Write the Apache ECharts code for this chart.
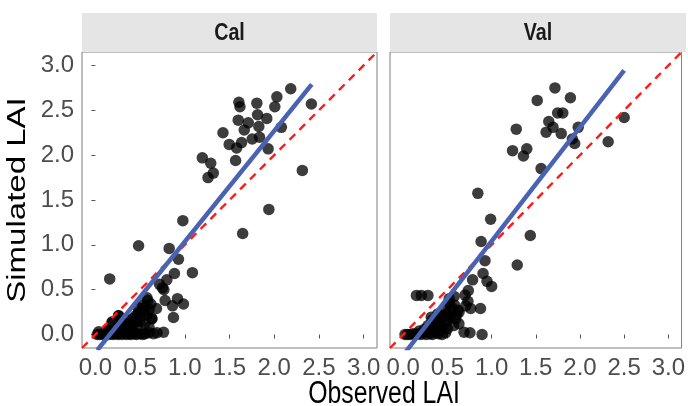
<!DOCTYPE html>
<html><head><meta charset="utf-8">
<script src="https://cdn.jsdelivr.net/npm/echarts@6/dist/echarts.min.js"></script>
<style>html,body{margin:0;padding:0;background:#fff}#c{width:688px;height:406px}</style>
</head><body><div id="c"></div>
<script>
const panels = ['Cal', 'Val'];
const tickValues = [0, 0.5, 1, 1.5, 2, 2.5, 3];
const xTitle = 'Observed LAI';
const yTitle = 'Simulated LAI';

const calX = [
  2.185,2.03,1.605,1.617,1.806,2.007,2.416,1.814,1.917,1.598,1.71,1.828,1.665,2.08,1.427,1.754,1.836,1.635,1.497,1.58,1.932,1.196,1.29,1.568,1.319,1.26,2.315,1.94,
  0.978,1.647,0.483,0.825,0.929,0.16,0.884,1.085,0.799,0.717,0.766,0.78,0.918,0.576,
  0.75,0.587,0.985,0.862,0.683,0.873,0.632,0.762,0.69,0.557,0.44,0.186,0.26,0.037,
  0.02,0.05,0.08,0.10,0.12,0.15,0.18,0.20,0.22,0.25,0.27,0.30,0.32,0.35,0.38,0.40,0.43,0.46,0.50,0.53,0.60,0.65,
  0.15,0.20,0.25,0.28,0.32,0.35,0.38,0.40,0.42,0.45,0.47,0.50,0.33,0.37,0.42,0.45,0.48,0.50,0.52,0.55,0.56,0.58,0.60,0.62,0.53,0.48,0.30,0.27,0.63,0.26,0.19,0.12,0.60,0.55
];
const calY = [
  2.74,2.65,2.59,2.54,2.58,2.54,2.57,2.45,2.41,2.39,2.36,2.32,2.28,2.31,2.25,2.18,2.20,2.14,2.12,2.08,2.07,1.97,1.91,1.94,1.80,1.75,1.83,1.395,
  1.27,1.126,0.99,0.96,0.84,0.62,0.68,0.69,0.61,0.56,0.50,0.38,0.40,0.41,
  0.52,0.38,0.34,0.32,0.29,0.19,0.175,0.026,0.02,0.01,0.01,0.14,0.21,0.03,
  0.00,0.00,0.00,0.01,0.00,0.00,0.01,0.00,0.02,0.00,0.01,0.00,0.02,0.00,0.01,0.00,0.02,0.00,0.01,0.00,0.02,0.01,
  0.05,0.06,0.05,0.08,0.06,0.10,0.07,0.12,0.09,0.14,0.10,0.15,0.13,0.16,0.18,0.21,0.24,0.20,0.27,0.25,0.31,0.22,0.28,0.34,0.33,0.30,0.12,0.15,0.18,0.21,0.14,0.04,0.08,0.12
];

const valX = [
  1.717,1.516,1.892,1.747,1.806,1.647,1.695,1.617,1.788,1.98,1.279,2.50,1.914,1.94,2.319,1.237,1.398,1.36,1.56,
  0.844,0.989,1.438,0.881,0.925,1.29,0.903,0.785,0.948,1.0,0.736,0.699,0.149,0.205,0.279,0.576,0.52,0.732,0.707,0.874,0.763,0.632,0.595,0.50,0.688,0.755,0.892,0.50,0.50,0.317,0.39,
  0.02,0.05,0.08,0.11,0.14,0.17,0.20,0.23,0.26,0.30,0.33,0.37,0.40,0.44,0.48,0.18,0.24,0.30,0.34,0.38,0.42,0.45,0.36,0.40,0.44,0.47,0.50,0.53,0.55,0.58,0.60,0.62,0.52,0.47,0.57,0.63,0.33,0.28
];
const valY = [
  2.75,2.61,2.64,2.47,2.47,2.375,2.31,2.256,2.24,2.31,2.29,2.42,2.18,2.13,2.15,2.05,2.07,1.99,1.85,
  1.574,1.286,1.104,1.037,0.824,0.775,0.68,0.61,0.593,0.537,0.49,0.44,0.436,0.436,0.436,0.425,0.40,0.37,0.32,0.29,0.29,0.25,0.175,0.157,0.026,0.02,0.0,0.064,0.22,0.194,0.23,
  0.00,0.00,0.00,0.01,0.00,0.01,0.00,0.02,0.00,0.01,0.00,0.02,0.01,0.00,0.02,0.04,0.06,0.05,0.08,0.06,0.10,0.07,0.13,0.16,0.20,0.13,0.24,0.19,0.30,0.33,0.22,0.27,0.35,0.28,0.10,0.12,0.16,0.10
];

// fitted regression lines (end points) and 1:1 line
const calFitX = [0.02, 2.42];
const calFitY = [-0.175, 2.79];
const valFitX = [0.03, 2.50];
const valFitY = [-0.19, 2.945];
const oneToOne = [-0.15, 3.15];

const zip = (a, b) => a.map((v, i) => [v, b[i]]);

const FONT = '"Liberation Sans", Arial, sans-serif';
const gridL = [82, 390];
const gridW = [295, 296];

function xAxis(i) {
  return {
    gridIndex: i, type: 'value', min: -0.15, max: 3.15,
    axisLine: { show: false },
    splitLine: { show: false },
    axisTick: { show: true, length: 4, lineStyle: { color: '#555', width: 1 }, customValues: tickValues },
    axisLabel: { show: true, customValues: tickValues, formatter: v => v.toFixed(1),
      color: '#4d4d4d', fontSize: 24, fontFamily: FONT, margin: 8 }
  };
}
function yAxis(i) {
  return {
    gridIndex: i, type: 'value', min: -0.15, max: 3.15,
    axisLine: { show: false },
    splitLine: { show: false },
    axisTick: { show: i === 0, length: 4, lineStyle: { color: '#555', width: 1 }, customValues: tickValues },
    axisLabel: { show: i === 0, customValues: tickValues, formatter: v => v.toFixed(1),
      color: '#4d4d4d', fontSize: 24, fontFamily: FONT, margin: 8 }
  };
}

const series = [];
[[calX, calY, calFitX, calFitY], [valX, valY, valFitX, valFitY]].forEach((d, i) => {
  series.push({
    type: 'scatter', xAxisIndex: i, yAxisIndex: i, data: zip(d[0], d[1]),
    symbolSize: 11.5, itemStyle: { color: '#000', opacity: 0.76 }, silent: true, z: 2
  });
  series.push({
    type: 'line', xAxisIndex: i, yAxisIndex: i, data: zip(oneToOne, oneToOne),
    symbol: 'none', clip: true, lineStyle: { color: '#ff1a1a', width: 2.4, type: [8, 6] }, z: 3, silent: true
  });
  series.push({
    type: 'line', xAxisIndex: i, yAxisIndex: i, data: zip(d[2], d[3]),
    symbol: 'none', clip: true, lineStyle: { color: '#4a62b2', width: 4.5 }, z: 4, silent: true
  });
});

const graphics = [];
panels.forEach((p, i) => {
  graphics.push({ type: 'rect', shape: { x: gridL[i], y: 13, width: gridW[i], height: 39 },
    style: { fill: '#e5e5e5' }, silent: true });
  graphics.push({ type: 'text', x: gridL[i] + gridW[i] / 2, y: 33, scaleX: 0.82,
    style: { text: p, fill: '#1a1a1a', font: 'bold 24px ' + FONT, textAlign: 'center', textVerticalAlign: 'middle' } });
});
graphics.push({ type: 'text', x: 384, y: 394, scaleX: 0.8,
  style: { text: xTitle, fill: '#000', font: '31px ' + FONT, textAlign: 'center', textVerticalAlign: 'middle' } });
graphics.push({ type: 'text', x: 18, y: 200, rotation: Math.PI / 2, scaleY: 0.8,
  style: { text: yTitle, fill: '#000', font: '33px ' + FONT, textAlign: 'center', textVerticalAlign: 'middle' } });

const chart = echarts.init(document.getElementById('c'), null, { renderer: 'canvas' });
chart.setOption({
  animation: false,
  backgroundColor: '#fff',
  grid: gridL.map((l, i) => ({ left: l, top: 52, width: gridW[i], height: 296, show: true,
    borderColor: '#7f7f7f', borderWidth: 1, backgroundColor: '#fff' })),
  xAxis: [xAxis(0), xAxis(1)],
  yAxis: [yAxis(0), yAxis(1)],
  series: series,
  graphic: graphics
});
</script></body></html>
